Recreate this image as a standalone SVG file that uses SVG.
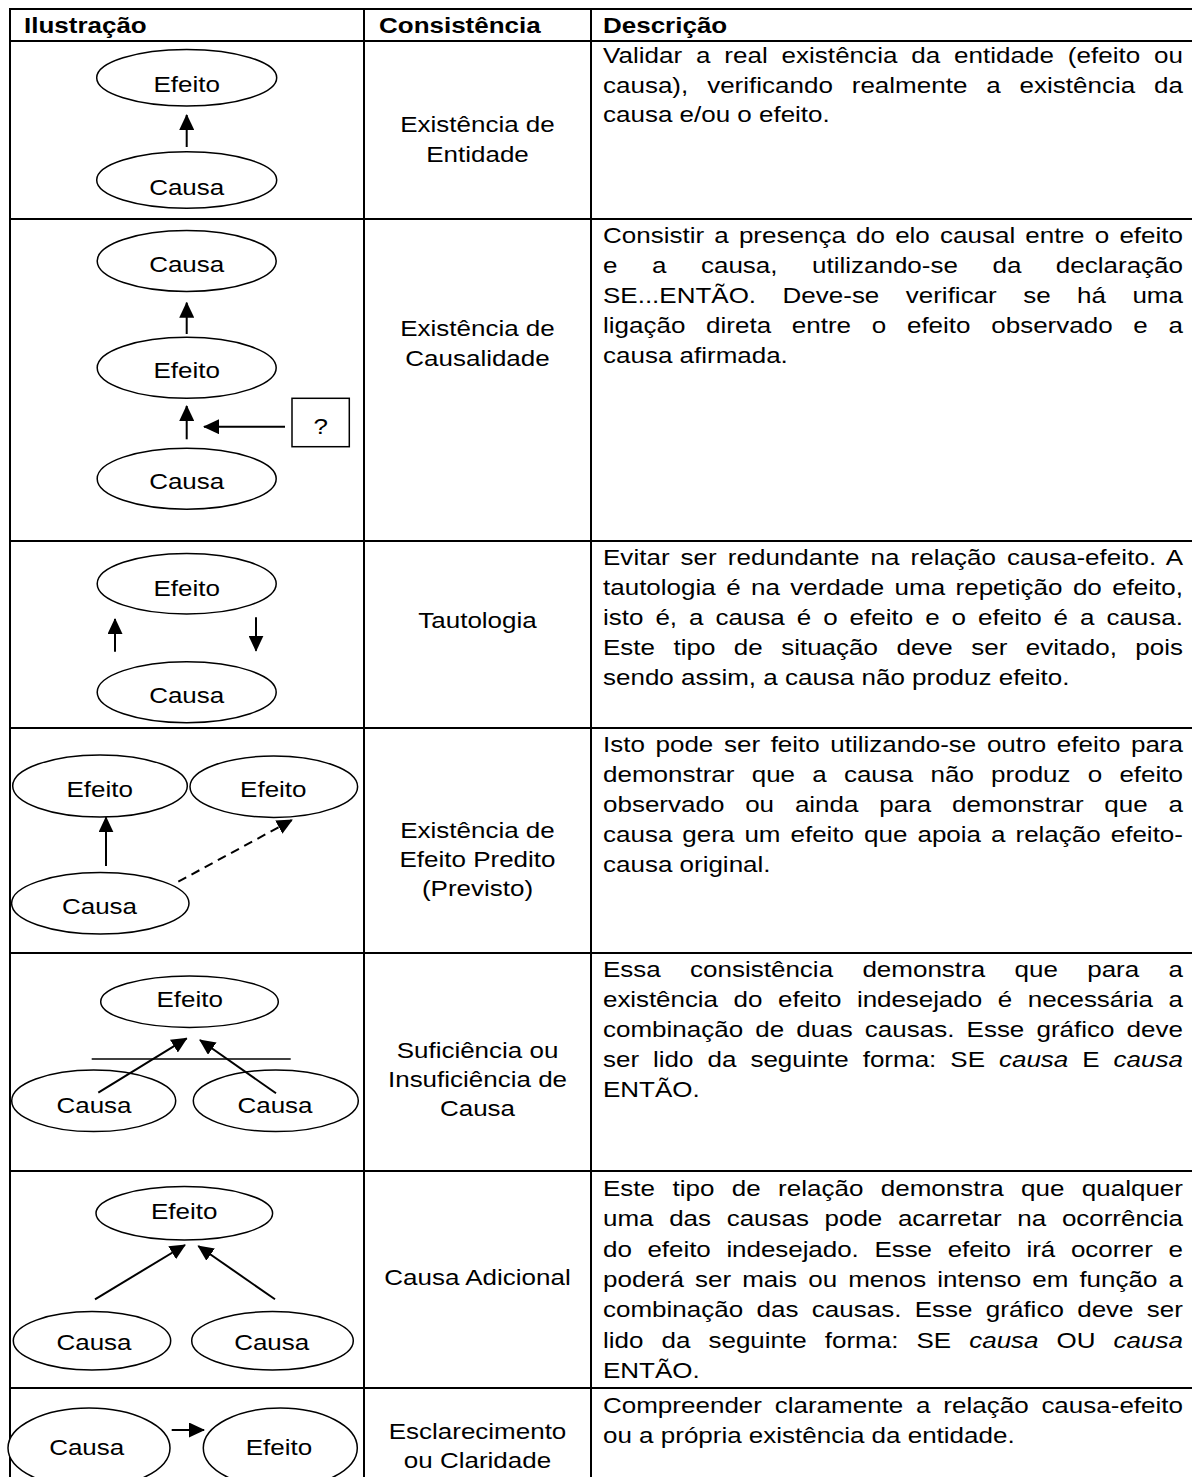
<svg xmlns="http://www.w3.org/2000/svg" width="1192" height="1477" viewBox="0 0 1192 1477">
  <style>
    .t { font-family: "Liberation Sans", Arial, sans-serif; font-size: 26px; fill: #000; }
    .b { font-weight: bold; }
    .c { text-anchor: middle; }
    .grid line { stroke: #000; stroke-width: 2; }
    .node ellipse, .node rect { fill: #fff; stroke: #000; stroke-width: 1.5; }
    .node ellipse.open { fill: none; }
    .edge { stroke: #000; stroke-width: 2; fill: none; }
    .dash { stroke-dasharray: 9 6; }
  </style>
  <defs>
    <marker id="ah" markerUnits="userSpaceOnUse" viewBox="0 0 16 15" markerWidth="16" markerHeight="15" refX="15" refY="7.5" orient="auto">
      <path d="M0,0 L16,7.5 L0,15 Z" fill="#000"/>
    </marker>
  </defs>

  <rect x="0" y="0" width="1192" height="1477" fill="#fff"/>

  <!-- table grid -->
  <g id="grid" class="grid">
    <line x1="9" y1="9" x2="1192" y2="9"/>
    <line x1="9" y1="41" x2="1192" y2="41"/>
    <line x1="9" y1="219" x2="1192" y2="219"/>
    <line x1="9" y1="541" x2="1192" y2="541"/>
    <line x1="9" y1="728" x2="1192" y2="728"/>
    <line x1="9" y1="953" x2="1192" y2="953"/>
    <line x1="9" y1="1171" x2="1192" y2="1171"/>
    <line x1="9" y1="1388" x2="1192" y2="1388"/>
    <line x1="10" y1="8" x2="10" y2="1477"/>
    <line x1="364" y1="8" x2="364" y2="1477"/>
    <line x1="591" y1="8" x2="591" y2="1477"/>
  </g>

  <!-- column headers -->
  <g id="headers">
    <text class="t b" transform="matrix(1 0 0 0.85 24 33)">Ilustração</text>
    <text class="t b" transform="matrix(1 0 0 0.85 379 33)">Consistência</text>
    <text class="t b" transform="matrix(1 0 0 0.85 603 33)">Descrição</text>
  </g>

  <!-- connectors -->
  <g id="connectors">
    <line class="edge" x1="186.7" y1="147" x2="186.7" y2="115" marker-end="url(#ah)"/>
    <line class="edge" x1="186.7" y1="334" x2="186.7" y2="302.7" marker-end="url(#ah)"/>
    <line class="edge" x1="186.7" y1="439.3" x2="186.7" y2="406" marker-end="url(#ah)"/>
    <line class="edge" x1="285" y1="426.7" x2="204" y2="426.7" marker-end="url(#ah)"/>
    <line class="edge" x1="115" y1="651.7" x2="115" y2="619" marker-end="url(#ah)"/>
    <line class="edge" x1="256" y1="617.3" x2="256" y2="650.7" marker-end="url(#ah)"/>
    <line class="edge" x1="106" y1="866" x2="106" y2="817.3" marker-end="url(#ah)"/>
    <line class="edge dash" x1="178.3" y1="881.7" x2="292" y2="820" marker-end="url(#ah)"/>
    <line x1="91.7" y1="1059" x2="290.7" y2="1059" stroke="#000" stroke-width="1.5"/>
    <line class="edge" x1="98.3" y1="1092.7" x2="186.7" y2="1038.3" marker-end="url(#ah)"/>
    <line class="edge" x1="276" y1="1093.3" x2="200" y2="1040" marker-end="url(#ah)"/>
    <line class="edge" x1="95" y1="1299.3" x2="185" y2="1245" marker-end="url(#ah)"/>
    <line class="edge" x1="275" y1="1299.3" x2="198.3" y2="1246" marker-end="url(#ah)"/>
    <line class="edge" x1="171.7" y1="1430" x2="204" y2="1430" marker-end="url(#ah)"/>
  </g>

  <!-- row 1: existence of entity -->
  <g id="r1-efeito" class="node">
    <ellipse cx="186.7" cy="77.7" rx="90" ry="28.3"/>
    <text class="t c" transform="matrix(1 0 0 0.85 186.7 91.7)">Efeito</text>
  </g>
  <g id="r1-causa" class="node">
    <ellipse cx="186.7" cy="180" rx="90" ry="28.3"/>
    <text class="t c" transform="matrix(1 0 0 0.85 186.7 195)">Causa</text>
  </g>

  <!-- row 2: existence of causality -->
  <g id="r2-causa-top" class="node">
    <ellipse cx="186.7" cy="261" rx="89.5" ry="30.5"/>
    <text class="t c" transform="matrix(1 0 0 0.85 186.7 271.7)">Causa</text>
  </g>
  <g id="r2-efeito" class="node">
    <ellipse cx="186.7" cy="367.8" rx="89.5" ry="30.5"/>
    <text class="t c" transform="matrix(1 0 0 0.85 186.7 378)">Efeito</text>
  </g>
  <g id="r2-causa-bottom" class="node">
    <ellipse cx="186.7" cy="478.7" rx="89.5" ry="30.5"/>
    <text class="t c" transform="matrix(1 0 0 0.85 186.7 489.3)">Causa</text>
  </g>
  <g id="r2-question" class="node">
    <rect x="292" y="398.3" width="57.3" height="48.4"/>
    <text class="t c" transform="matrix(1 0 0 0.85 320.7 434)">?</text>
  </g>

  <!-- row 3: tautology -->
  <g id="r3-efeito" class="node">
    <ellipse cx="186.7" cy="583.7" rx="89.5" ry="30.3"/>
    <text class="t c" transform="matrix(1 0 0 0.85 186.7 596)">Efeito</text>
  </g>
  <g id="r3-causa" class="node">
    <ellipse cx="186.7" cy="692.2" rx="89.5" ry="30.5"/>
    <text class="t c" transform="matrix(1 0 0 0.85 186.7 703.3)">Causa</text>
  </g>

  <!-- row 4: predicted effect -->
  <g id="r4-efeito-left" class="node">
    <ellipse cx="100" cy="786" rx="87.3" ry="31"/>
    <text class="t c" transform="matrix(1 0 0 0.85 99.7 796.7)">Efeito</text>
  </g>
  <g id="r4-efeito-right" class="node">
    <ellipse cx="273.8" cy="786.7" rx="83.8" ry="30.7"/>
    <text class="t c" transform="matrix(1 0 0 0.85 273.3 797)">Efeito</text>
  </g>
  <g id="r4-causa" class="node">
    <ellipse cx="100.3" cy="903.3" rx="88.7" ry="30.7"/>
    <text class="t c" transform="matrix(1 0 0 0.85 99.5 914)">Causa</text>
  </g>

  <!-- row 5: sufficiency (causes drawn open so the arrows show through) -->
  <g id="r5-efeito" class="node">
    <ellipse cx="189.5" cy="1001.7" rx="88.8" ry="25.7"/>
    <text class="t c" transform="matrix(1 0 0 0.85 189.7 1006.7)">Efeito</text>
  </g>
  <g id="r5-causa-left" class="node">
    <ellipse class="open" cx="93.7" cy="1100.8" rx="82" ry="30.8"/>
    <text class="t c" transform="matrix(1 0 0 0.85 94 1113.3)">Causa</text>
  </g>
  <g id="r5-causa-right" class="node">
    <ellipse class="open" cx="275.8" cy="1100.8" rx="82.5" ry="30.8"/>
    <text class="t c" transform="matrix(1 0 0 0.85 275 1113.3)">Causa</text>
  </g>

  <!-- row 6: additional cause -->
  <g id="r6-efeito" class="node">
    <ellipse cx="184.3" cy="1213.3" rx="88.3" ry="26.7"/>
    <text class="t c" transform="matrix(1 0 0 0.85 184.2 1219.3)">Efeito</text>
  </g>
  <g id="r6-causa-left" class="node">
    <ellipse cx="92" cy="1340.8" rx="78.7" ry="29.2"/>
    <text class="t c" transform="matrix(1 0 0 0.85 94 1350)">Causa</text>
  </g>
  <g id="r6-causa-right" class="node">
    <ellipse cx="272.5" cy="1340.8" rx="80.8" ry="29.2"/>
    <text class="t c" transform="matrix(1 0 0 0.85 271.7 1350)">Causa</text>
  </g>

  <!-- row 7: clarity -->
  <g id="r7-causa" class="node">
    <ellipse cx="89" cy="1448" rx="81" ry="40"/>
    <text class="t c" transform="matrix(1 0 0 0.85 86.7 1455)">Causa</text>
  </g>
  <g id="r7-efeito" class="node">
    <ellipse cx="280.3" cy="1448" rx="77" ry="40"/>
    <text class="t c" transform="matrix(1 0 0 0.85 279 1455)">Efeito</text>
  </g>

  <!-- consistency column -->
  <g id="consistencia">
    <text class="t c" transform="matrix(1 0 0 0.85 477.5 131.5)">Existência de</text>
    <text class="t c" transform="matrix(1 0 0 0.85 477.5 161.5)">Entidade</text>
    <text class="t c" transform="matrix(1 0 0 0.85 477.5 336)">Existência de</text>
    <text class="t c" transform="matrix(1 0 0 0.85 477.5 366)">Causalidade</text>
    <text class="t c" transform="matrix(1 0 0 0.85 477.5 628)">Tautologia</text>
    <text class="t c" transform="matrix(1 0 0 0.85 477.5 838)">Existência de</text>
    <text class="t c" transform="matrix(1 0 0 0.85 477.5 867)">Efeito Predito</text>
    <text class="t c" transform="matrix(1 0 0 0.85 477.5 896)">(Previsto)</text>
    <text class="t c" transform="matrix(1 0 0 0.85 477.5 1058)">Suficiência ou</text>
    <text class="t c" transform="matrix(1 0 0 0.85 477.5 1087)">Insuficiência de</text>
    <text class="t c" transform="matrix(1 0 0 0.85 477.5 1116)">Causa</text>
    <text class="t c" transform="matrix(1 0 0 0.85 477.5 1285)">Causa Adicional</text>
    <text class="t c" transform="matrix(1 0 0 0.85 477.5 1439)">Esclarecimento</text>
    <text class="t c" transform="matrix(1 0 0 0.85 477.5 1468)">ou Claridade</text>
  </g>

  <!-- description column (justified lines use word-spacing + textLength) -->
  <g id="descricao">
    <text class="t" transform="matrix(1 0 0 0.85 603 63)" word-spacing="6.47" textLength="580" lengthAdjust="spacing">Validar a real existência da entidade (efeito ou</text>
    <text class="t" transform="matrix(1 0 0 0.85 603 92.5)" word-spacing="11.66" textLength="580" lengthAdjust="spacing">causa), verificando realmente a existência da</text>
    <text class="t" transform="matrix(1 0 0 0.85 603 122)">causa e/ou o efeito.</text>

    <text class="t" transform="matrix(1 0 0 0.85 603 243)" word-spacing="2.95" textLength="580" lengthAdjust="spacing">Consistir a presença do elo causal entre o efeito</text>
    <text class="t" transform="matrix(1 0 0 0.85 603 273)" word-spacing="27.3" textLength="580" lengthAdjust="spacing">e a causa, utilizando-se da declaração</text>
    <text class="t" transform="matrix(1 0 0 0.85 603 303)" word-spacing="19.2" textLength="580" lengthAdjust="spacing">SE...ENTÃO. Deve-se verificar se há uma</text>
    <text class="t" transform="matrix(1 0 0 0.85 603 333)" word-spacing="13.5" textLength="580" lengthAdjust="spacing">ligação direta entre o efeito observado e a</text>
    <text class="t" transform="matrix(1 0 0 0.85 603 363)">causa afirmada.</text>

    <text class="t" transform="matrix(1 0 0 0.85 603 565)" word-spacing="3.7" textLength="580" lengthAdjust="spacing">Evitar ser redundante na relação causa-efeito. A</text>
    <text class="t" transform="matrix(1 0 0 0.85 603 595)" word-spacing="3.16" textLength="580" lengthAdjust="spacing">tautologia é na verdade uma repetição do efeito,</text>
    <text class="t" transform="matrix(1 0 0 0.85 603 625)" word-spacing="4.73" textLength="580" lengthAdjust="spacing">isto é, a causa é o efeito e o efeito é a causa.</text>
    <text class="t" transform="matrix(1 0 0 0.85 603 655)" word-spacing="11.2" textLength="580" lengthAdjust="spacing">Este tipo de situação deve ser evitado, pois</text>
    <text class="t" transform="matrix(1 0 0 0.85 603 685)">sendo assim, a causa não produz efeito.</text>

    <text class="t" transform="matrix(1 0 0 0.85 603 752)" word-spacing="3.37" textLength="580" lengthAdjust="spacing">Isto pode ser feito utilizando-se outro efeito para</text>
    <text class="t" transform="matrix(1 0 0 0.85 603 782)" word-spacing="9.97" textLength="580" lengthAdjust="spacing">demonstrar que a causa não produz o efeito</text>
    <text class="t" transform="matrix(1 0 0 0.85 603 812)" word-spacing="13.6" textLength="580" lengthAdjust="spacing">observado ou ainda para demonstrar que a</text>
    <text class="t" transform="matrix(1 0 0 0.85 603 842)" word-spacing="2.76" textLength="580" lengthAdjust="spacing">causa gera um efeito que apoia a relação efeito-</text>
    <text class="t" transform="matrix(1 0 0 0.85 603 872)">causa original.</text>

    <text class="t" transform="matrix(1 0 0 0.85 603 977)" word-spacing="22.1" textLength="580" lengthAdjust="spacing">Essa consistência demonstra que para a</text>
    <text class="t" transform="matrix(1 0 0 0.85 603 1007)" word-spacing="8.5" textLength="580" lengthAdjust="spacing">existência do efeito indesejado é necessária a</text>
    <text class="t" transform="matrix(1 0 0 0.85 603 1037)" word-spacing="4.9" textLength="580" lengthAdjust="spacing">combinação de duas causas. Esse gráfico deve</text>
    <text class="t" transform="matrix(1 0 0 0.85 603 1067)" word-spacing="6.75" textLength="580" lengthAdjust="spacing">ser lido da seguinte forma: SE <tspan font-style="italic">causa</tspan> E <tspan font-style="italic">causa</tspan></text>
    <text class="t" transform="matrix(1 0 0 0.85 603 1097)">ENTÃO.</text>

    <text class="t" transform="matrix(1 0 0 0.85 603 1196)" word-spacing="10.2" textLength="580" lengthAdjust="spacing">Este tipo de relação demonstra que qualquer</text>
    <text class="t" transform="matrix(1 0 0 0.85 603 1226.3)" word-spacing="8.5" textLength="580" lengthAdjust="spacing">uma das causas pode acarretar na ocorrência</text>
    <text class="t" transform="matrix(1 0 0 0.85 603 1256.6)" word-spacing="8.5" textLength="580" lengthAdjust="spacing">do efeito indesejado. Esse efeito irá ocorrer e</text>
    <text class="t" transform="matrix(1 0 0 0.85 603 1286.9)" word-spacing="3.86" textLength="580" lengthAdjust="spacing">poderá ser mais ou menos intenso em função a</text>
    <text class="t" transform="matrix(1 0 0 0.85 603 1317.2)" word-spacing="6.1" textLength="580" lengthAdjust="spacing">combinação das causas. Esse gráfico deve ser</text>
    <text class="t" transform="matrix(1 0 0 0.85 603 1347.5)" word-spacing="10.8" textLength="580" lengthAdjust="spacing">lido da seguinte forma: SE <tspan font-style="italic">causa</tspan> OU <tspan font-style="italic">causa</tspan></text>
    <text class="t" transform="matrix(1 0 0 0.85 603 1377.8)">ENTÃO.</text>

    <text class="t" transform="matrix(1 0 0 0.85 603 1413)" word-spacing="5.55" textLength="580" lengthAdjust="spacing">Compreender claramente a relação causa-efeito</text>
    <text class="t" transform="matrix(1 0 0 0.85 603 1443)">ou a própria existência da entidade.</text>
  </g>
</svg>
